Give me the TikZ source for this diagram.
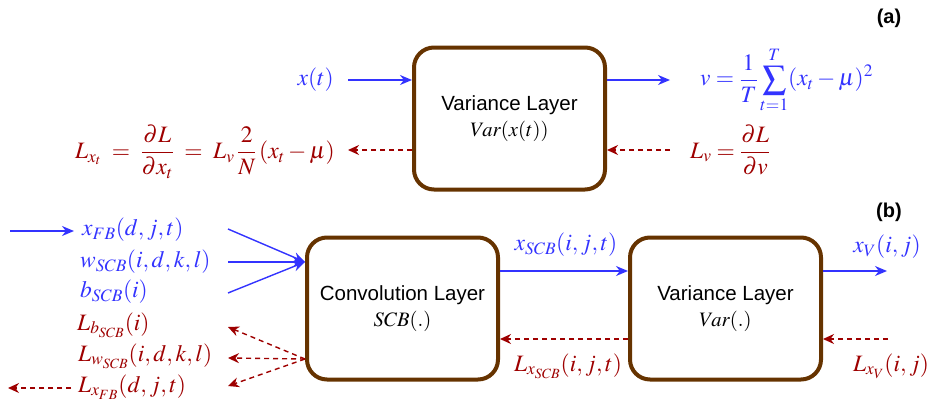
\documentclass[tikz,border=0pt]{standalone}
\usepackage{amsmath}
\usepackage{mathptmx}
\usepackage{fontspec}
\setsansfont{Liberation Sans}
\usetikzlibrary{arrows.meta}

\definecolor{fwd}{RGB}{51,51,255}
\definecolor{bwd}{RGB}{158,0,0}
\definecolor{layerbrown}{RGB}{102,51,0}

\begin{document}
\begin{tikzpicture}[x=1pt,y=-1pt,
  layer/.style={draw=layerbrown, line width=4pt, rounded corners=20pt, fill=white,
    align=center, minimum width=191pt, minimum height=142pt,
    font=\sffamily\fontsize{20.5}{26}\selectfont},
  fwdarrow/.style={draw=fwd, line width=1.4pt, -{Stealth[length=12pt,width=10pt]}},
  bwdarrow/.style={draw=bwd, line width=1.4pt, dash pattern=on 5pt off 4pt,
    -{Stealth[length=11pt,width=10pt]}},
  fwdlbl/.style={text=fwd, inner sep=0pt, font=\fontsize{23.5}{28}\selectfont},
  bwdlbl/.style={text=bwd, inner sep=0pt, font=\fontsize{23.5}{28}\selectfont},
  tag/.style={inner sep=0pt, font=\sffamily\bfseries\fontsize{20}{24}\selectfont}]

\useasboundingbox (0,0) rectangle (933,407);

% ---------- (a) single variance layer ----------
\node[tag] (taga) at (889,18) {(a)};
\node[layer] (va) at (509.5,118.5) {Variance Layer\\$Var(x(t))$};

\coordinate (xsrc) at (348,80);
\node[fwdlbl, anchor=east] (xlbl) at (334,80) {$x(t)$};
\draw[fwdarrow] (xsrc) -- (xsrc -| va.west);

\coordinate (vdst) at (670,80);
\draw[fwdarrow] (vdst -| va.east) -- (vdst);
\node[fwdlbl, anchor=west] (vform) at (700,80)
  {$\displaystyle v=\frac{1}{T}\sum_{t=1}^{T}(x_t-\mu)^2$};

\coordinate (lvsrc) at (670,150);
\draw[bwdarrow] (lvsrc) -- (lvsrc -| va.east);
\node[bwdlbl, anchor=west] (lv) at (690,150) {$\displaystyle L_v=\frac{\partial L}{\partial v}$};

\coordinate (lxdst) at (348,150);
\draw[bwdarrow] (lxdst -| va.west) -- (lxdst);
\node[bwdlbl, anchor=east] (lx) at (335,152)
  {$\displaystyle L_{x_t}\;=\;\frac{\partial L}{\partial x_t}\;=\;L_v\,\frac{2}{N}\,(x_t-\mu)$};

% ---------- (b) convolution followed by variance ----------
\node[tag] (tagb) at (889,212) {(b)};
\node[layer] (conv) at (402.5,308.5) {Convolution Layer\\$SCB(.)$};
\node[layer] (var) at (725.5,308.5) {Variance Layer\\$Var(.)$};

% inputs of the convolution layer
\node[fwdlbl, anchor=west] (xfb) at (82,230) {$x_{FB}(d,j,t)$};
\node[fwdlbl, anchor=west] (wscb) at (80,262) {$w_{SCB}(i,d,k,l)$};
\node[fwdlbl, anchor=west] (bscb) at (80,292) {$b_{SCB}(i)$};
\coordinate (xfbsrc) at (10,231);
\coordinate (xfbtip) at (74,231);
\draw[fwdarrow] (xfbsrc) -- (xfbtip);

\coordinate (joinin) at (228,262);
\coordinate (inx) at (228,229);
\coordinate (inw) at (228,262);
\coordinate (inb) at (228,293);
\coordinate (join) at (joinin -| conv.west);
\draw[fwdarrow] (inx) -- (join);
\draw[fwdarrow] (inw) -- (join);
\draw[fwdarrow] (inb) -- (join);

% gradients leaving the convolution layer
\node[bwdlbl, anchor=west] (lb) at (77,325) {$L_{b_{SCB}}(i)$};
\node[bwdlbl, anchor=west] (lw) at (78,356) {$L_{w_{SCB}}(i,d,k,l)$};
\node[bwdlbl, anchor=west] (lxfb) at (78,387) {$L_{x_{FB}}(d,j,t)$};
\coordinate (splitin) at (228,359);
\coordinate (split) at (splitin -| conv.west);
\coordinate (outb) at (228,327);
\coordinate (outw) at (228,358);
\coordinate (outx) at (228,386);
\draw[bwdarrow] (split) -- (outb);
\draw[bwdarrow] (split) -- (outw);
\draw[bwdarrow] (split) -- (outx);
\coordinate (lxfbsrc) at (71,388);
\coordinate (lxfbdst) at (8,388);
\draw[bwdarrow] (lxfbsrc) -- (lxfbdst);

% between the two layers
\coordinate (mid) at (565,271);
\draw[fwdarrow] (mid -| conv.east) -- (mid -| var.west);
\node[fwdlbl] (xscb) at (566,245) {$x_{SCB}(i,j,t)$};
\coordinate (midb) at (565,339);
\draw[bwdarrow] (midb -| var.west) -- (midb -| conv.east);
\node[bwdlbl] (lxscb) at (568,366) {$L_{x_{SCB}}(i,j,t)$};

% output of the variance layer
\coordinate (xvdst) at (887,271);
\draw[fwdarrow] (xvdst -| var.east) -- (xvdst);
\node[fwdlbl] (xv) at (887,247) {$x_V(i,j)$};
\coordinate (lxvsrc) at (888,339);
\draw[bwdarrow] (lxvsrc) -- (lxvsrc -| var.east);
\node[bwdlbl] (lxv) at (891,366) {$L_{x_V}(i,j)$};
\end{tikzpicture}
\end{document}
